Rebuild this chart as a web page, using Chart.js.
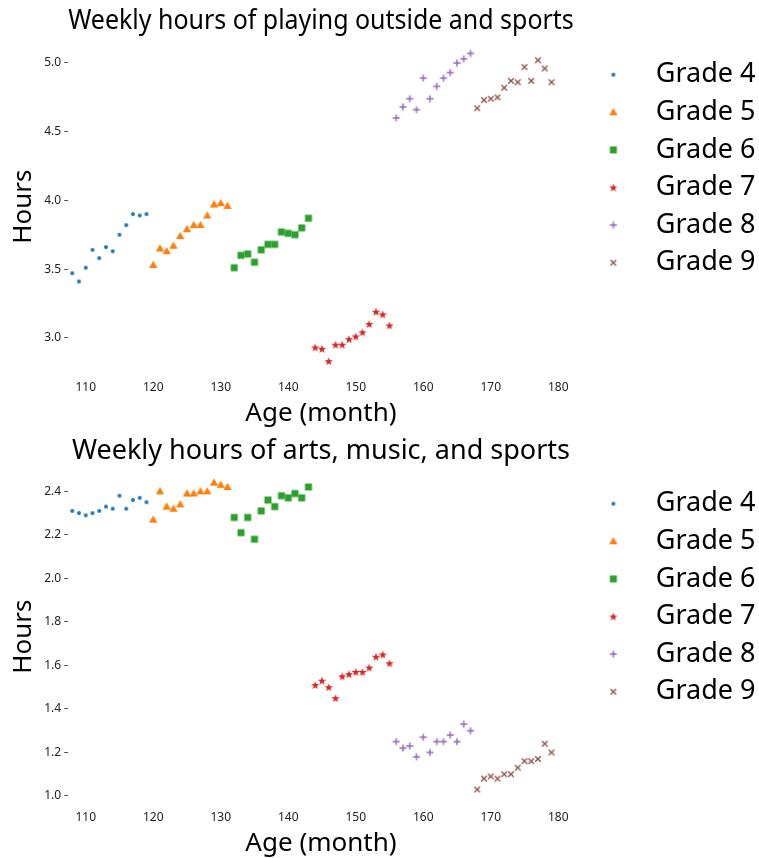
<!DOCTYPE html>
<html lang="en">
<head>
<meta charset="UTF-8">
<title>Weekly hours by age</title>
<script src="https://cdn.jsdelivr.net/npm/chart.js"></script>
<style>
  body { margin: 0; background: #ffffff; overflow: hidden; }
  .chart-box { position: absolute; left: 0; width: 759px; height: 430px; }
  #top { top: 0; }
  #bottom { top: 430px; }
</style>
</head>
<body>
<div class="chart-box" id="top"><canvas id="outsideChart"></canvas></div>
<div class="chart-box" id="bottom"><canvas id="artsChart"></canvas></div>
<script>
const grades = ['Grade 4', 'Grade 5', 'Grade 6', 'Grade 7', 'Grade 8', 'Grade 9'];

// age in months for each grade
const ages4 = [108, 109, 110, 111, 112, 113, 114, 115, 116, 117, 118, 119];
const ages5 = [120, 121, 122, 123, 124, 125, 126, 127, 128, 129, 130, 131];
const ages6 = [132, 133, 134, 135, 136, 137, 138, 139, 140, 141, 142, 143];
const ages7 = [144, 145, 146, 147, 148, 149, 150, 151, 152, 153, 154, 155];
const ages8 = [156, 157, 158, 159, 160, 161, 162, 163, 164, 165, 166, 167];
const ages9 = [168, 169, 170, 171, 172, 173, 174, 175, 176, 177, 178, 179];

// weekly hours of playing outside and sports
const outside4 = [3.47, 3.41, 3.51, 3.64, 3.58, 3.66, 3.63, 3.75, 3.82, 3.90, 3.89, 3.90];
const outside5 = [3.53, 3.65, 3.63, 3.67, 3.74, 3.79, 3.82, 3.82, 3.89, 3.97, 3.98, 3.96];
const outside6 = [3.51, 3.60, 3.61, 3.55, 3.64, 3.68, 3.68, 3.77, 3.76, 3.75, 3.80, 3.87];
const outside7 = [2.93, 2.92, 2.83, 2.95, 2.95, 2.99, 3.01, 3.04, 3.10, 3.19, 3.17, 3.09];
const outside8 = [4.60, 4.68, 4.74, 4.66, 4.89, 4.74, 4.83, 4.89, 4.93, 5.00, 5.03, 5.07];
const outside9 = [4.67, 4.73, 4.74, 4.75, 4.82, 4.87, 4.86, 4.97, 4.87, 5.02, 4.96, 4.86];

// weekly hours of arts, music, and sports
const arts4 = [2.31, 2.30, 2.29, 2.30, 2.31, 2.33, 2.32, 2.38, 2.32, 2.36, 2.37, 2.35];
const arts5 = [2.27, 2.40, 2.33, 2.32, 2.34, 2.39, 2.39, 2.40, 2.40, 2.44, 2.43, 2.42];
const arts6 = [2.28, 2.21, 2.28, 2.18, 2.31, 2.36, 2.33, 2.38, 2.37, 2.39, 2.37, 2.42];
const arts7 = [1.51, 1.53, 1.50, 1.45, 1.55, 1.56, 1.57, 1.57, 1.59, 1.64, 1.65, 1.61];
const arts8 = [1.25, 1.22, 1.23, 1.18, 1.27, 1.20, 1.25, 1.25, 1.28, 1.25, 1.33, 1.30];
const arts9 = [1.03, 1.08, 1.09, 1.08, 1.10, 1.10, 1.13, 1.16, 1.16, 1.17, 1.24, 1.20];

const xTicks = [110, 120, 130, 140, 150, 160, 170, 180];
const outsideTicks = [3.0, 3.5, 4.0, 4.5, 5.0];
const artsTicks = [1.0, 1.2, 1.4, 1.6, 1.8, 2.0, 2.2, 2.4];

const colors = ['#1f77b4', '#ff7f0e', '#2ca02c', '#d62728', '#9467bd', '#8c564b'];
const shapes = ['circle', 'triangle', 'square', 'star', 'plus', 'x'];

Chart.defaults.font.family = "'Noto Sans', 'DejaVu Sans', sans-serif";
Chart.defaults.color = '#000000';

// small canvas markers in the matplotlib style (filled star, thin plus / x)
function makeMarker(shape, color) {
  const s = 14;
  const c = document.createElement('canvas');
  c.width = s;
  c.height = s;
  const g = c.getContext('2d');
  const cx = s / 2, cy = s / 2;
  g.fillStyle = color;
  g.strokeStyle = color;
  g.lineWidth = 1.4;
  g.beginPath();
  if (shape === 'circle') {
    g.arc(cx, cy, 2, 0, Math.PI * 2);
    g.fill();
  } else if (shape === 'triangle') {
    g.moveTo(cx, cy - 4.3);
    g.lineTo(cx + 4.2, cy + 2.9);
    g.lineTo(cx - 4.2, cy + 2.9);
    g.closePath();
    g.fill();
  } else if (shape === 'square') {
    g.rect(cx - 3.5, cy - 3.5, 7, 7);
    g.fill();
  } else if (shape === 'star') {
    for (let i = 0; i < 10; i++) {
      const r = i % 2 === 0 ? 4.4 : 1.8;
      const a = -Math.PI / 2 + i * Math.PI / 5;
      g.lineTo(cx + r * Math.cos(a), cy + 0.4 + r * Math.sin(a));
    }
    g.closePath();
    g.fill();
  } else if (shape === 'plus') {
    g.moveTo(cx - 3.5, cy);
    g.lineTo(cx + 3.5, cy);
    g.moveTo(cx, cy - 3.5);
    g.lineTo(cx, cy + 3.5);
    g.stroke();
  } else {
    g.moveTo(cx - 2.8, cy - 2.8);
    g.lineTo(cx + 2.8, cy + 2.8);
    g.moveTo(cx + 2.8, cy - 2.8);
    g.lineTo(cx - 2.8, cy + 2.8);
    g.stroke();
  }
  return c;
}

const pointIcons = shapes.map((s, i) => makeMarker(s, colors[i]));

function buildDatasets(ages, values) {
  return grades.map((g, i) => ({
    label: g,
    data: ages[i].map((a, j) => ({ x: a, y: values[i][j] })),
    backgroundColor: colors[i],
    borderColor: colors[i],
    pointStyle: pointIcons[i],
    pointRadius: 4,
    showLine: false,
    clip: false
  }));
}

function buildOptions(titleText, yTicks, yMin, yMax, legendTop) {
  return {
    responsive: true,
    maintainAspectRatio: false,
    animation: false,
    // the legend box is capped at a quarter of the width, so let it run past the edge a little
    layout: { padding: { left: 0, right: -6, top: 0, bottom: 0.4 } },
    scales: {
      x: {
        type: 'linear',
        min: 107.4,
        max: 182.3,
        afterBuildTicks: (scale) => { scale.ticks = xTicks.map(v => ({ value: v })); },
        grid: { display: false, drawTicks: false },
        border: { display: false },
        ticks: { font: { size: 12 }, padding: 4, color: '#222' },
        title: { display: true, text: 'Age (month)', font: { size: 26 }, padding: { top: 0, bottom: 0 } }
      },
      y: {
        min: yMin,
        max: yMax,
        afterBuildTicks: (scale) => { scale.ticks = yTicks.map(v => ({ value: v })); },
        grid: { display: true, drawOnChartArea: false, drawTicks: true, tickLength: 4, color: '#555' },
        border: { display: false },
        ticks: { font: { size: 12 }, padding: 3, color: '#222', callback: (v) => v.toFixed(1) },
        title: { display: true, text: 'Hours', font: { size: 26 }, padding: { top: 8, bottom: 2 } }
      }
    },
    plugins: {
      title: {
        display: true,
        text: titleText,
        fullSize: false,
        font: { size: 27, weight: 'normal' },
        padding: { top: 5, bottom: 0 }
      },
      legend: {
        position: 'right',
        align: 'start',
        fullSize: false,
        title: { display: true, text: ' ', font: { size: 1 }, padding: { top: legendTop, bottom: 0 } },
        labels: {
          usePointStyle: true,
          pointStyleWidth: 58,
          boxHeight: 8,
          padding: 10.6,
          font: { size: 27 }
        }
      },
      tooltip: { enabled: false }
    }
  };
}

new Chart(document.getElementById('outsideChart'), {
  type: 'scatter',
  data: {
    datasets: buildDatasets(
      [ages4, ages5, ages6, ages7, ages8, ages9],
      [outside4, outside5, outside6, outside7, outside8, outside9]
    )
  },
  options: buildOptions('Weekly hours of playing outside and sports', outsideTicks, 2.722, 5.186, 12)
});

new Chart(document.getElementById('artsChart'), {
  type: 'scatter',
  data: {
    datasets: buildDatasets(
      [ages4, ages5, ages6, ages7, ages8, ages9],
      [arts4, arts5, arts6, arts7, arts8, arts9]
    )
  },
  options: buildOptions('Weekly hours of arts, music, and sports', artsTicks, 0.954, 2.51, 11)
});
</script>
</body>
</html>
